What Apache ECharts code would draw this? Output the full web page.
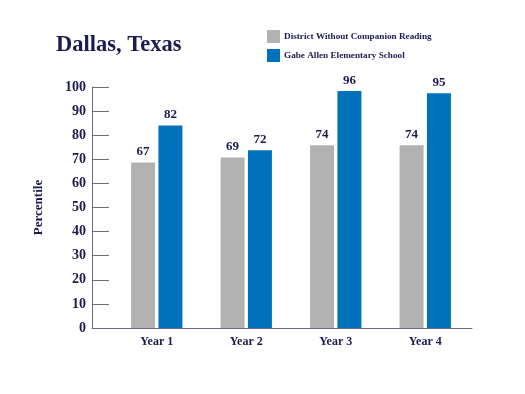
<!DOCTYPE html>
<html><head><meta charset="utf-8">
<script src="https://cdn.jsdelivr.net/npm/echarts@6/dist/echarts.min.js"></script>
<style>html,body{margin:0;padding:0;background:#fff}#c{width:525px;height:394px}</style>
</head><body><div id="c"></div>
<script>
const categories = ['Year 1', 'Year 2', 'Year 3', 'Year 4'];
const districtValues = [67, 69, 74, 74];
const schoolValues = [82, 72, 96, 95];
const seriesNames = ['District Without Companion Reading', 'Gabe Allen Elementary School'];
const titleText = 'Dallas, Texas';
const yAxisName = 'Percentile';

const navy = '#1c1a52';
const font = '"Liberation Serif", "DejaVu Serif", serif';
const chart = echarts.init(document.getElementById('c'), null, {renderer: 'canvas'});
const labelStyle = {show: true, position: 'top', distance: 4, color: navy, fontFamily: font, fontWeight: 'bold', fontSize: 13};
chart.setOption({
  animation: false,
  backgroundColor: '#fff',
  title: {text: titleText, left: 56, top: 34, padding: 0, textStyle: {fontFamily: font, fontWeight: 'bold', fontSize: 22.5, color: navy}},
  legend: {
    orient: 'vertical', left: 267, top: 30, padding: 0, itemWidth: 13, itemHeight: 13, itemGap: 6,
    icon: 'rect',
    textStyle: {fontFamily: font, fontWeight: 'bold', fontSize: 9.2, color: navy, padding: [0,0,0,-1]},
    data: seriesNames
  },
  grid: [
    {left: 92, right: 53, top: 87, bottom: 66},
    {left: 112, right: 55, top: 81, bottom: 66}
  ],
  xAxis: [
    {gridIndex: 0, type: 'value', min: 0, max: 1, axisLine: {show: true, lineStyle: {color: '#6f6c8a', width: 1}}, axisTick: {show: false}, axisLabel: {show: false}, splitLine: {show: false}},
    {gridIndex: 1, type: 'category', data: categories, axisLine: {show: false}, axisTick: {show: false},
     axisLabel: {margin: 8, color: navy, fontFamily: font, fontWeight: 'bold', fontSize: 12}}
  ],
  yAxis: [
    {gridIndex: 0, type: 'value', min: 0, max: 100, interval: 10,
     name: yAxisName, nameLocation: 'middle', nameGap: 47,
     nameTextStyle: {fontFamily: font, fontWeight: 'bold', fontSize: 13, color: navy},
     axisLine: {show: true, lineStyle: {color: '#6f6c8a', width: 1}},
     axisTick: {show: true, inside: true, length: 17, lineStyle: {color: '#6f6c8a', width: 1}},
     axisLabel: {margin: 6, color: navy, fontFamily: font, fontWeight: 'bold', fontSize: 14},
     splitLine: {show: false}},
    {gridIndex: 1, type: 'value', min: 0, max: 100, show: false}
  ],
  series: [
    {name: seriesNames[0], type: 'bar', xAxisIndex: 1, yAxisIndex: 1, data: districtValues, barWidth: 24, barGap: '14%', itemStyle: {color: '#b2b2b2'}, label: labelStyle},
    {name: seriesNames[1], type: 'bar', xAxisIndex: 1, yAxisIndex: 1, data: schoolValues, barWidth: 24, barGap: '14%', itemStyle: {color: '#0071bb'}, label: labelStyle}
  ]
});
</script></body></html>
